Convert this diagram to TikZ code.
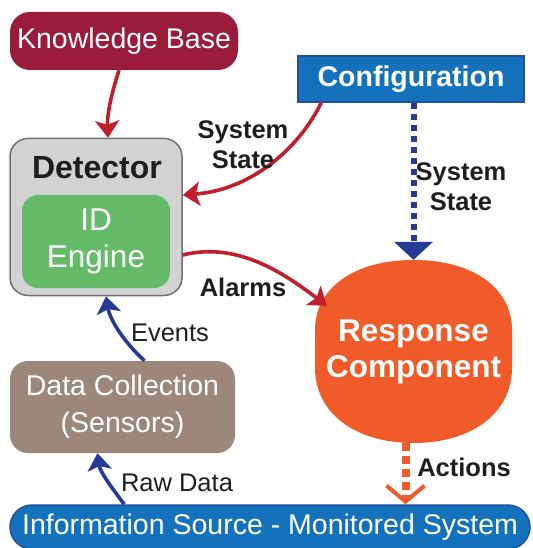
\documentclass[tikz,border=0pt]{standalone}
\usepackage{fontspec}
\setmainfont{Liberation Sans}
\usetikzlibrary{arrows.meta,calc}
\definecolor{kbred}{RGB}{155,28,58}
\definecolor{cfgblue}{RGB}{20,114,189}
\definecolor{cfgborder}{RGB}{38,78,158}
\definecolor{detgray}{RGB}{209,210,212}
\definecolor{detborder}{RGB}{112,112,114}
\definecolor{enggreen}{RGB}{102,187,104}
\definecolor{databrown}{RGB}{155,136,122}
\definecolor{resporange}{RGB}{241,90,41}
\definecolor{arrred}{RGB}{192,30,45}
\definecolor{arrblue}{RGB}{36,58,150}
\definecolor{txtdark}{RGB}{30,30,30}
\begin{document}
\begin{tikzpicture}[x=1pt,y=-1pt,
  box/.style={inner sep=0pt, align=center, text=white},
  bigfont/.style={font=\fontsize{28.5}{37}\selectfont},
  boldfont/.style={font=\bfseries\fontsize{28.5}{37}\selectfont},
  lbl/.style={inner sep=0pt, align=center, text=txtdark, font=\fontsize{25.5}{30}\selectfont},
  blbl/.style={inner sep=0pt, align=center, text=txtdark, font=\bfseries\fontsize{25.5}{30}\selectfont},
  redarr/.style={draw=arrred, line width=3.6pt, -{Stealth[length=17pt,width=24pt,inset=4pt]}},
  bluearr/.style={draw=arrblue, line width=3.6pt, -{Stealth[length=17pt,width=24pt,inset=4pt]}},
]
\clip (0,0) rectangle (532,548);
\fill[white] (0,0) rectangle (532,548);

% nodes
\node[box, bigfont, fill=kbred, rounded corners=20pt, minimum width=228pt, minimum height=58pt] (kb) at (124,41) {Knowledge Base};
\node[box, boldfont, fill=cfgblue, draw=cfgborder, line width=1.5pt, minimum width=226pt, minimum height=46pt] (cfg) at (411,79) {Configuration};
\node[box, fill=detgray, draw=detborder, line width=1.5pt, rounded corners=18pt, minimum width=172pt, minimum height=157pt] (det) at (96,217) {};
\node[inner sep=0pt, text=txtdark, font=\bfseries\fontsize{32}{36}\selectfont] (dettitle) at (97,168) {Detector};
\node[box, font=\fontsize{31.5}{37}\selectfont, fill=enggreen, rounded corners=16pt, minimum width=148pt, minimum height=93pt] (eng) at (96,241.5) {ID\\Engine};
\node[box, bigfont, fill=databrown, rounded corners=18pt, minimum width=225pt, minimum height=92pt] (data) at (122.5,407) {Data Collection\\(Sensors)};
\node[box, bigfont, fill=cfgblue, draw=cfgborder, line width=1.5pt, rounded corners=22pt, minimum width=520pt, minimum height=44pt] (info) at (270,527) {Information Source - Monitored System};

% response blob
\fill[resporange] (315,330) .. controls (315,288) and (354,260) .. (413.5,260)
  .. controls (473,260) and (512,288) .. (512,330) -- (512,368)
  .. controls (512,412) and (473,443) .. (413.5,443)
  .. controls (354,443) and (315,412) .. (315,368) -- cycle;
\node[box, font=\bfseries\fontsize{31.5}{36}\selectfont, minimum width=197pt, minimum height=183pt] (resp) at (413.5,351.5) {Response\\Component};

% connectors
\draw[redarr] ($(kb.south)+(-5,0)$) .. controls (111,95) and (107,115) .. ($(det.north)+(12,0)$);
\draw[redarr] ($(cfg.south west)+(24,0)$) .. controls (298,150) and (250,190) .. ($(det.east)+(0,-22)$);
\draw[redarr] ($(det.east)+(0,38)$) .. controls (235,242) and (280,270) .. ($(resp.north west)+(12,46)$);
\draw[bluearr] ($(data.north)+(22,0)$) .. controls (124,342) and (110,320) .. ($(det.south)+(10,0)$);
\draw[bluearr] ($(info.north west)+(115,0)$) .. controls (112,488) and (100,472) .. ($(data.south)+(-25,0)$);
\draw[draw=arrblue, line width=6pt, dash pattern=on 6pt off 5pt, -{Triangle[length=18pt,width=38pt]}] (resp.north |- cfg.south) -- (resp.north);
\draw[draw=resporange, line width=8pt, dash pattern=on 8pt off 5pt, -{Straight Barb[length=16pt,width=38pt,line width=4pt]}] ($(resp.south)+(-8,0)$) -- ($(resp.south |- info.north)+(-8,0)$);

% labels
\node[blbl] (lss1) at (243,145) {System\\State};
\node[blbl] (lss2) at (461,187) {System\\State};
\node[blbl] (lalarm) at (243,287) {Alarms};
\node[lbl] (levents) at (170,333) {Events};
\node[lbl] (lraw) at (177,483) {Raw Data};
\node[blbl] (lact) at (464,467) {Actions};
\end{tikzpicture}
\end{document}
